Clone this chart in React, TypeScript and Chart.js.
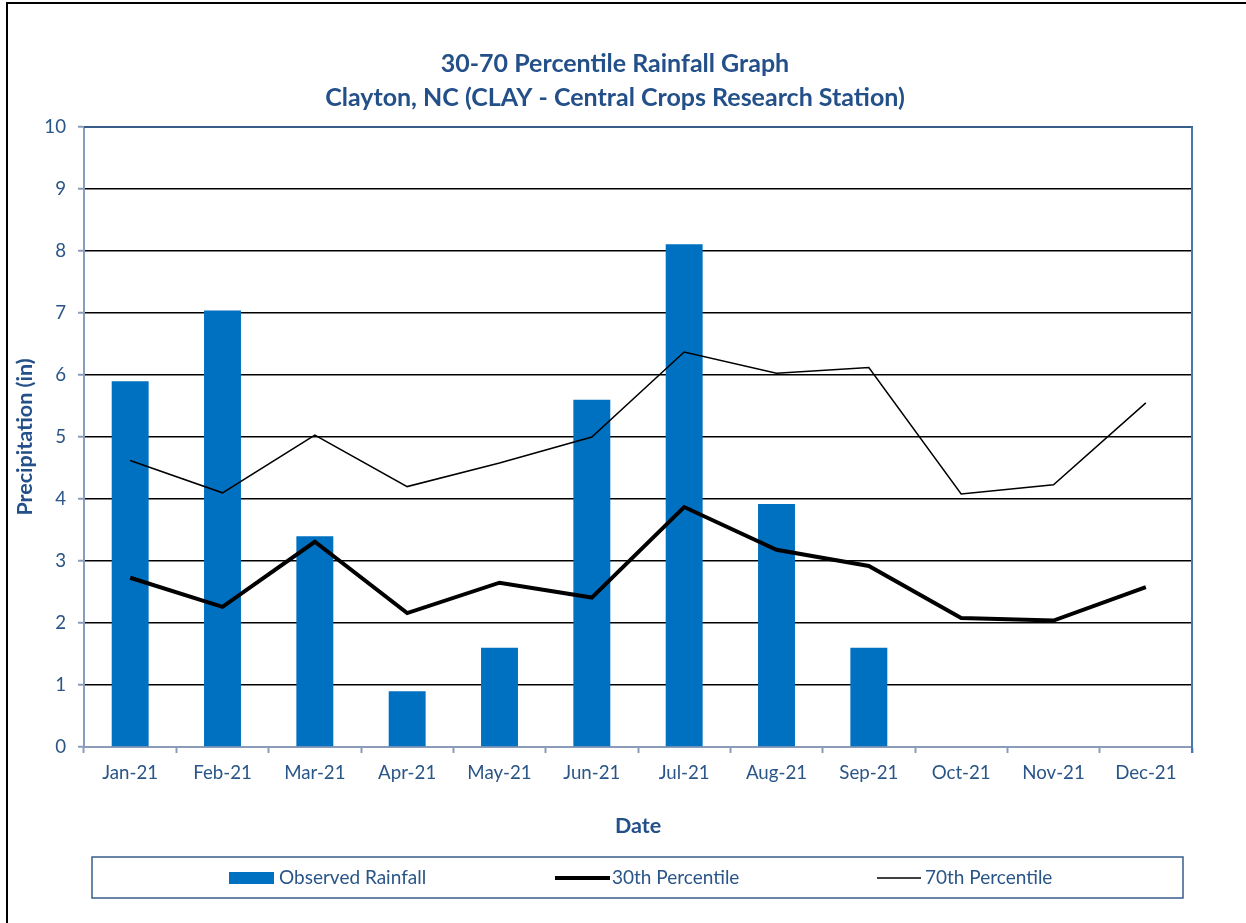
import React, { useEffect, useRef } from "react";
import { Chart, registerables } from "chart.js";

Chart.register(...registerables);

const months = ["Jan-21", "Feb-21", "Mar-21", "Apr-21", "May-21", "Jun-21", "Jul-21", "Aug-21", "Sep-21", "Oct-21", "Nov-21", "Dec-21"];
const observed = [5.9, 7.04, 3.4, 0.9, 1.6, 5.6, 8.11, 3.92, 1.6, null, null, null];
const p30 = [2.73, 2.26, 3.31, 2.16, 2.65, 2.41, 3.87, 3.18, 2.92, 2.08, 2.04, 2.58];
const p70 = [4.62, 4.1, 5.03, 4.2, 4.58, 5.0, 6.37, 6.03, 6.12, 4.08, 4.23, 5.55];
const titleLines = ["30-70 Percentile Rainfall Graph", "Clayton, NC (CLAY - Central Crops Research Station)"];
const yTitle = "Precipitation (in)";
const xTitle = "Date";
const seriesNames = ["Observed Rainfall", "30th Percentile", "70th Percentile"];

const FONT = "Lato";
const TEXT = "#2A5587";
const TITLE = "#24508A";
const BAR = "#0070C0";
const AXIS = "#8A9CBA";

const decor = {
  id: "decor",
  beforeDraw(chart: any) {
    const { ctx } = chart;
    ctx.save();
    ctx.fillStyle = "#ffffff";
    ctx.fillRect(0, 0, chart.width, chart.height);
    ctx.strokeStyle = "#000000";
    ctx.lineWidth = 2;
    ctx.strokeRect(7, 3, chart.width + 20, chart.height + 20);
    ctx.restore();
  },
  afterDraw(chart: any) {
    const { ctx, chartArea: a } = chart;
    ctx.save();
    ctx.lineWidth = 2;
    ctx.strokeStyle = "#385D8A";
    ctx.beginPath();
    ctx.moveTo(a.left, a.top);
    ctx.lineTo(a.right + 1, a.top);
    ctx.stroke();
    ctx.strokeStyle = "#4A76AE";
    ctx.beginPath();
    ctx.moveTo(a.right, a.top);
    ctx.lineTo(a.right, a.bottom + 6);
    ctx.stroke();
    // titles
    ctx.fillStyle = TITLE;
    ctx.textAlign = "center";
    ctx.textBaseline = "middle";
    ctx.font = `bold 25px ${FONT}`;
    ctx.fillText(titleLines[0], 615, 64);
    ctx.fillText(titleLines[1], 615, 98);
    // legend
    const lx = 92, ly = 857, lw = 1091, lh = 41;
    ctx.lineWidth = 1.5;
    ctx.strokeStyle = "#385D8A";
    ctx.strokeRect(lx, ly, lw, lh);
    const cy = 878;
    ctx.font = `19px ${FONT}`;
    ctx.textAlign = "left";
    const ds = chart.data.datasets;
    ctx.fillStyle = ds[0].backgroundColor;
    ctx.fillRect(229, 872, 45, 12);
    ctx.fillStyle = TEXT;
    ctx.fillText(ds[0].label, 279, cy);
    ctx.strokeStyle = ds[1].borderColor;
    ctx.lineWidth = ds[1].borderWidth;
    ctx.beginPath();
    ctx.moveTo(555, cy);
    ctx.lineTo(610, cy);
    ctx.stroke();
    ctx.fillText(ds[1].label, 612, cy);
    ctx.strokeStyle = ds[2].borderColor;
    ctx.lineWidth = ds[2].borderWidth;
    ctx.beginPath();
    ctx.moveTo(877, cy);
    ctx.lineTo(921, cy);
    ctx.stroke();
    ctx.fillText(ds[2].label, 925, cy);
    ctx.restore();
  },
};

export default function App() {
  const ref = useRef<HTMLCanvasElement>(null);
  useEffect(() => {
    if (!ref.current) return;
    const chart = new Chart(ref.current, {
      type: "bar",
      data: {
        labels: months,
        datasets: [
          {
            type: "bar",
            label: seriesNames[0],
            data: observed as any,
            backgroundColor: BAR,
            borderWidth: 0,
            barPercentage: 0.4,
            categoryPercentage: 1,
            order: 3,
          },
          {
            type: "line",
            label: seriesNames[1],
            data: p30,
            borderColor: "#000000",
            borderWidth: 4,
            pointRadius: 0,
            tension: 0,
            order: 1,
          },
          {
            type: "line",
            label: seriesNames[2],
            data: p70,
            borderColor: "#000000",
            borderWidth: 1.5,
            pointRadius: 0,
            tension: 0,
            order: 2,
          },
        ] as any,
      },
      options: {
        responsive: false,
        animation: false,
        layout: { padding: { left: 0, right: 54, top: 127, bottom: 80 } },
        plugins: {
          legend: { display: false },
          title: { display: false },
          tooltip: { enabled: false },
        },
        scales: {
          x: {
            offset: true,
            grid: {
              offset: true,
              drawOnChartArea: false,
              drawTicks: true,
              tickLength: 6,
              tickColor: AXIS,
              tickWidth: 2,
            },
            border: { color: AXIS, width: 2 },
            ticks: { color: TEXT, font: { family: FONT, size: 18.7 }, padding: 9, maxRotation: 0 },
            title: {
              display: true,
              text: xTitle,
              color: TITLE,
              font: { family: FONT, size: 21.5, weight: "bold" },
              padding: { top: 4, bottom: 4 },
            },
            afterFit(s: any) {
              s.height = 96;
            },
          },
          y: {
            min: 0,
            max: 10,
            ticks: { stepSize: 1, color: TEXT, font: { family: FONT, size: 18.7 }, padding: 12 },
            grid: {
              color: (c: any) => (c.tick && c.tick.value === 10 ? "#385D8A" : c.tick && c.tick.value === 0 ? "rgba(0,0,0,0)" : "#000000"),
              lineWidth: 1.5,
              tickLength: 6,
              tickColor: AXIS,
              tickWidth: 2,
            },
            border: { color: AXIS, width: 2 },
            title: {
              display: true,
              text: yTitle,
              color: TITLE,
              font: { family: FONT, size: 21.5, weight: "bold" },
              padding: { top: 12, bottom: 4 },
            },
            afterFit(s: any) {
              s.width = 84;
            },
          },
        },
      } as any,
      plugins: [decor],
    });
    return () => chart.destroy();
  }, []);
  return (
    <div style={{ position: "absolute", left: 0, top: 0, width: 1246, height: 923, overflow: "hidden" }}>
      <canvas ref={ref} width={1246} height={923} style={{ display: "block" }} />
    </div>
  );
}
